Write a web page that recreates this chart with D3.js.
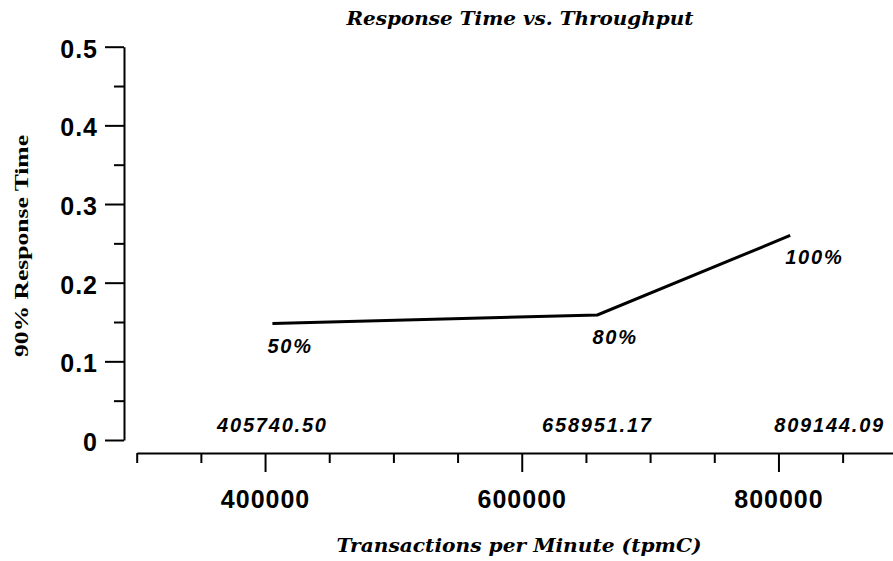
<!DOCTYPE html>
<html><head><meta charset="utf-8">
<script src="https://cdn.jsdelivr.net/npm/d3@7"></script>
<style>
body{margin:0;background:#fff}
svg{display:block}
</style>
</head><body>
<script>
// ---- data ----
const tpmC = [405740.50, 658951.17, 809144.09];
const responseTime = [0.148, 0.159, 0.260];
const loadLabels = ["50%", "80%", "100%"];
const tpmLabels = ["405740.50", "658951.17", "809144.09"];
const xMajorTicks = [400000, 600000, 800000];
const xTickLabels = ["400000", "600000", "800000"];
const xMinorTicks = [300000, 350000, 450000, 500000, 550000, 650000, 700000, 750000, 850000];
const yMajorTicks = [0, 0.1, 0.2, 0.3, 0.4, 0.5];
const yTickLabels = ["0", "0.1", "0.2", "0.3", "0.4", "0.5"];
const yMinorTicks = [0.05, 0.15, 0.25, 0.35, 0.45];
const chartTitle = "Response Time vs. Throughput";
const xTitle = "Transactions per Minute (tpmC)";
const yTitle = "90% Response Time";

// ---- layout ----
const W = 893, H = 561;
const svg = d3.select("body").append("svg").attr("width", W).attr("height", H);

const x = d3.scaleLinear().domain([300000, 900000]).range([136.7, 906.8]);
const y = d3.scaleLinear().domain([0, 0.5]).range([440, 46.7]);
const yAxisX = 124, xAxisY = 453;

const tickFont = "bold 25px 'Liberation Sans', Arial, sans-serif";
const labelFont = "italic bold 20px 'Liberation Sans', Arial, sans-serif";

function styleAxis(g) {
  g.selectAll("path, line").attr("stroke", "#000").attr("stroke-width", 2);
  g.selectAll("text").attr("fill", "#000").style("font", tickFont).style("letter-spacing", "1px");
}

// y axis major
const gy = svg.append("g").attr("transform", `translate(${yAxisX},0)`)
  .call(d3.axisLeft(y).tickValues(yMajorTicks).tickSize(19).tickSizeOuter(0)
    .tickPadding(7).tickFormat((d, i) => yTickLabels[i]));
styleAxis(gy);
gy.selectAll("text").attr("dy", "0.42em");
// y axis minor
const gym = svg.append("g").attr("transform", `translate(${yAxisX},0)`)
  .call(d3.axisLeft(y).tickValues(yMinorTicks).tickSize(10).tickSizeOuter(0).tickFormat(""));
styleAxis(gym);
gym.select(".domain").remove();

// x axis major
const gx = svg.append("g").attr("transform", `translate(0,${xAxisY})`)
  .call(d3.axisBottom(x).tickValues(xMajorTicks).tickSize(19).tickSizeOuter(0)
    .tickPadding(18).tickFormat((d, i) => xTickLabels[i]));
styleAxis(gx);
// x axis minor
const gxm = svg.append("g").attr("transform", `translate(0,${xAxisY})`)
  .call(d3.axisBottom(x).tickValues(xMinorTicks).tickSize(10).tickSizeOuter(0).tickFormat(""));
styleAxis(gxm);
gxm.select(".domain").remove();

// data line
const pts = tpmC.map((t, i) => ({ t, r: responseTime[i], load: loadLabels[i], lab: tpmLabels[i], last: i === tpmC.length - 1 }));
svg.append("path").datum(pts)
  .attr("fill", "none").attr("stroke", "#000").attr("stroke-width", 3)
  .attr("d", d3.line().x(d => x(d.t)).y(d => y(d.r)));

// load labels
svg.selectAll(".load").data(pts).join("text").attr("class", "load")
  .attr("x", d => x(d.t) - 5).attr("y", d => y(d.r) + 29)
  .style("font", labelFont).style("letter-spacing", "1.8px")
  .text(d => d.load);

// tpmC labels (last one kept inside the right edge)
svg.selectAll(".tpm").data(pts).join("text").attr("class", "tpm")
  .attr("y", y(0) - 8)
  .attr("x", d => d.last ? W - 8 : x(d.t))
  .attr("text-anchor", d => d.last ? "end" : "middle")
  .style("font", labelFont).style("letter-spacing", "1.8px")
  .text(d => d.lab);

// titles
svg.append("text").attr("x", 520).attr("y", 25).attr("text-anchor", "middle")
  .attr("textLength", 347).attr("lengthAdjust", "spacingAndGlyphs")
  .style("font", "italic bold 19px 'DejaVu Serif', serif").text(chartTitle);

svg.append("text").attr("x", 519).attr("y", 552).attr("text-anchor", "middle")
  .attr("textLength", 365).attr("lengthAdjust", "spacingAndGlyphs")
  .style("font", "italic bold 19px 'DejaVu Serif', serif").text(xTitle);

svg.append("text").attr("transform", "translate(28,246) rotate(-90)").attr("text-anchor", "middle")
  .attr("textLength", 222).attr("lengthAdjust", "spacingAndGlyphs")
  .style("font", "bold 19px 'Liberation Serif', 'Times New Roman', serif").text(yTitle);
</script>
</body></html>
